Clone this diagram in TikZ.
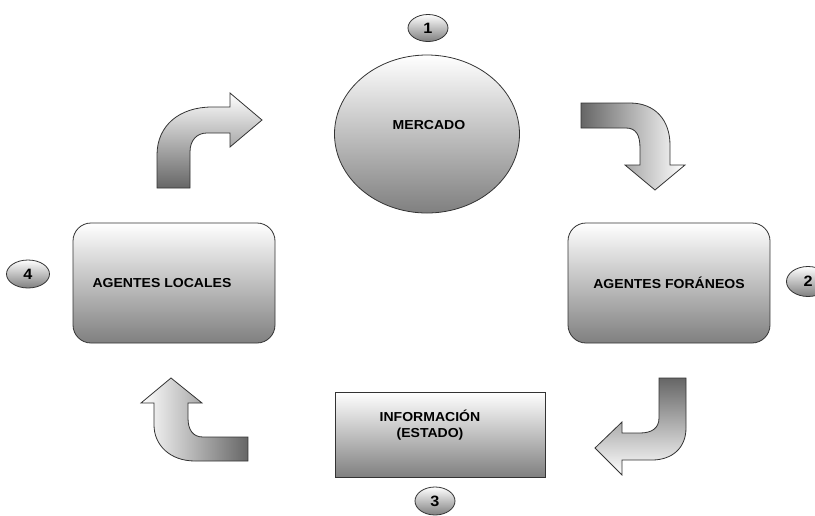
\documentclass[tikz,border=0pt]{standalone}
\usepackage{fontspec}
\setmainfont{Liberation Sans}[FakeStretch=1.08]
\usetikzlibrary{shapes.geometric}

\tikzset{
  lbl/.style={font=\fontsize{13}{16}\selectfont\bfseries, align=center, inner sep=0pt},
  shadebox/.style={draw=black!80, line width=0.8pt, top color=white, bottom color=black!50},
  badge/.style={ellipse, draw=black!80, line width=0.8pt, top color=white, bottom color=black!50,
    inner sep=0pt, font=\fontsize{15}{18}\selectfont\bfseries},
  blockarrow/.style={draw=black!80, line width=0.8pt}
}

\begin{document}
\begin{tikzpicture}[x=1pt,y=-1pt]
  \useasboundingbox (0,0) rectangle (815,515);

  \node [shadebox, ellipse, minimum width=185, minimum height=158] (mercado) at (427,134) {};
  \node [lbl] at ([xshift=2pt,yshift=9pt]mercado.center) {MERCADO};

  \node [shadebox, rectangle, rounded corners=18pt, minimum width=202, minimum height=120] (locales) at (174,283) {};
  \node [lbl] at ([xshift=-12pt]locales.center) {AGENTES LOCALES};

  \node [shadebox, rectangle, rounded corners=18pt, minimum width=202, minimum height=120] (foraneos) at (669,283) {};
  \node [lbl] at (foraneos.center) {AGENTES FORÁNEOS};

  \node [shadebox, rectangle, minimum width=210, minimum height=85] (info) at (440,434.5) {};
  \node [lbl] at ([xshift=-10pt,yshift=9pt]info.center) {INFORMACIÓN\\(ESTADO)};

  \node [badge, minimum width=40, minimum height=27] (b1) at (428,28) {1};
  \node [badge, minimum width=43, minimum height=30] (b2) at (808,281.5) {2};
  \node [badge, minimum width=40, minimum height=28] (b3) at (435,501) {3};
  \node [badge, minimum width=43, minimum height=28] (b4) at (28,274) {4};

  % block arrows
  \draw [blockarrow, top color=white, bottom color=black!60]
    (157,188) -- (157,155) .. controls (157,125) and (180,107) .. (212,107) -- (230,107)
    -- (230,93) -- (262,120) -- (230,147) -- (230,133) -- (207,133)
    .. controls (197,133) and (190,140) .. (190,152) -- (190,188) -- cycle;

  \draw [blockarrow, left color=black!60, right color=white]
    (581,103) -- (630,103) .. controls (655,103) and (670,120) .. (670,145) -- (670,165)
    -- (685,165) -- (655,190) -- (625,165) -- (640,165) -- (640,148)
    .. controls (640,135) and (636,128) .. (626,128) -- (581,128) -- cycle;

  \draw [blockarrow, top color=black!60, bottom color=white]
    (659,378) -- (686,378) -- (686,428) .. controls (686,448) and (672,460) .. (652,460)
    -- (622,460) -- (622,475) -- (595,448) -- (622,422) -- (622,433) -- (640,433)
    .. controls (652,433) and (659,428) .. (659,418) -- cycle;

  \draw [blockarrow, left color=white, right color=black!60]
    (248,437) -- (248,461) -- (195,461) .. controls (170,461) and (154,445) .. (154,425)
    -- (154,403) -- (141,403) -- (171,378) -- (202,403) -- (188,403) -- (188,418)
    .. controls (188,430) and (193,437) .. (203,437) -- cycle;
\end{tikzpicture}
\end{document}
